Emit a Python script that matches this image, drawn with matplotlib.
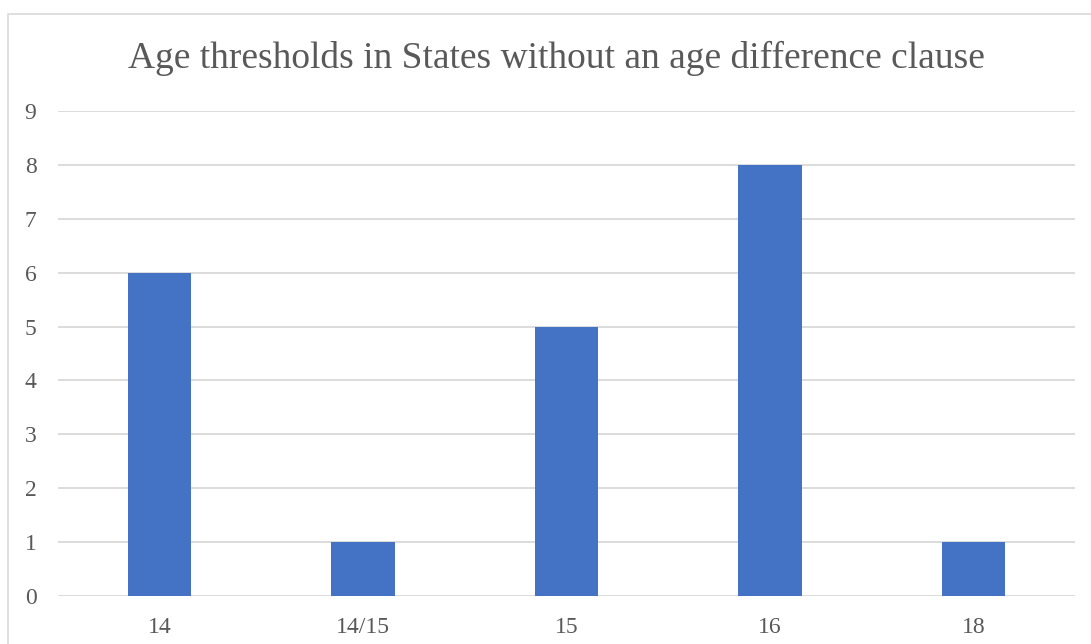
import matplotlib
matplotlib.use("Agg")
import matplotlib.pyplot as plt
from matplotlib.patches import Rectangle

categories = ['14', '14/15', '15', '16', '18']
counts = [6, 1, 5, 8, 1]
title = 'Age thresholds in States without an age difference clause'

text_color = '#595959'
plt.rcParams['font.family'] = ['Liberation Serif', 'DejaVu Serif']

fig = plt.figure(figsize=(10.91, 6.44), dpi=100)
ax = fig.add_axes([58 / 1091, 1 - 596 / 644, (1075 - 58) / 1091, (596 - 111) / 644])

ax.bar(range(len(categories)), counts, width=0.312, color='#4472C4', zorder=3)
ax.set_xlim(-0.5, len(categories) - 0.5)
ax.set_ylim(0, 9)
ax.set_yticks(range(10))
ax.set_xticks(range(len(categories)))
ax.set_xticklabels(categories)
ax.grid(axis='y', color='#D9D9D9', linewidth=1.3, zorder=0)
for sp in ax.spines.values():
    sp.set_visible(False)
ax.tick_params(length=0, labelsize=17, labelcolor=text_color)
ax.tick_params(axis='y', pad=15.5)
ax.tick_params(axis='x', pad=15)

fig.text(0.5 * (130 + 983) / 1091, 1 - 58 / 644, title, ha='center', va='center',
         fontsize=27, color=text_color)

fig.patches.append(Rectangle((8 / 1091, -0.1), 1.2, 1 - 14 / 644 + 0.1,
                             transform=fig.transFigure, fill=False,
                             edgecolor='#D9D9D9', linewidth=1.2))

fig.savefig('out.png', dpi=100)
